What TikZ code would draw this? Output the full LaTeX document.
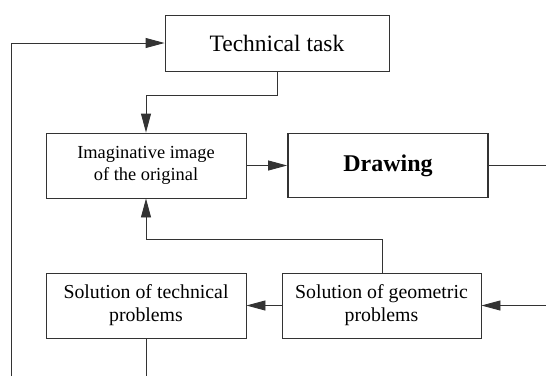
\documentclass[tikz,border=0pt]{standalone}
\usepackage{fontspec}
\setmainfont{Liberation Serif}
\usetikzlibrary{arrows.meta}
\begin{document}
\begin{tikzpicture}[x=1pt,y=-1pt,
  box/.style={draw=black!80, line width=0.9pt, inner sep=0pt, align=center, text=black},
  arr/.style={draw=black!80, line width=0.9pt, -{Triangle[length=19pt,width=10pt]}},
  ln/.style={draw=black!80, line width=0.9pt}]
\useasboundingbox (0,0) rectangle (546,376);
\node[box, minimum width=224pt, minimum height=56pt, font=\fontsize{23.5}{27}\selectfont] (TT) at (277,43) {Technical task};
\node[box, minimum width=200pt, minimum height=65pt, font=\fontsize{18.4}{22}\selectfont] (IM) at (146,165.5) {Imaginative image\\of the original};
\node[box, line width=1.8pt, minimum width=200pt, minimum height=64pt, font=\fontsize{24}{28}\selectfont\bfseries] (DR) at (388,165.5) {Drawing};
\node[box, minimum width=200pt, minimum height=65pt, font=\fontsize{19.8}{23}\selectfont] (ST) at (146,305.5) {Solution of technical\\problems};
\node[box, minimum width=199pt, minimum height=65pt, font=\fontsize{19.8}{23}\selectfont] (SG) at (381.5,305.5) {Solution of geometric\\problems};
\coordinate (L0) at (11,376);
\coordinate (K1) at (277,95);
\coordinate (K2) at (382,239);
\coordinate (R1) at (546,165.5);
\coordinate (R2) at (546,305.5);
\coordinate (B1) at (146,376);
\draw[arr] (L0) |- (TT.west);
\draw[arr] (TT.south) -- (K1) -| (IM.north);
\draw[arr] (IM.east) -- (DR.west);
\draw[ln] (DR.east) -- (R1);
\draw[arr] (SG.north -| K2) -- (K2) -| (IM.south);
\draw[arr] (R2) -- (SG.east);
\draw[arr] (SG.west) -- (ST.east);
\draw[ln] (ST.south) -- (B1);
\end{tikzpicture}
\end{document}
